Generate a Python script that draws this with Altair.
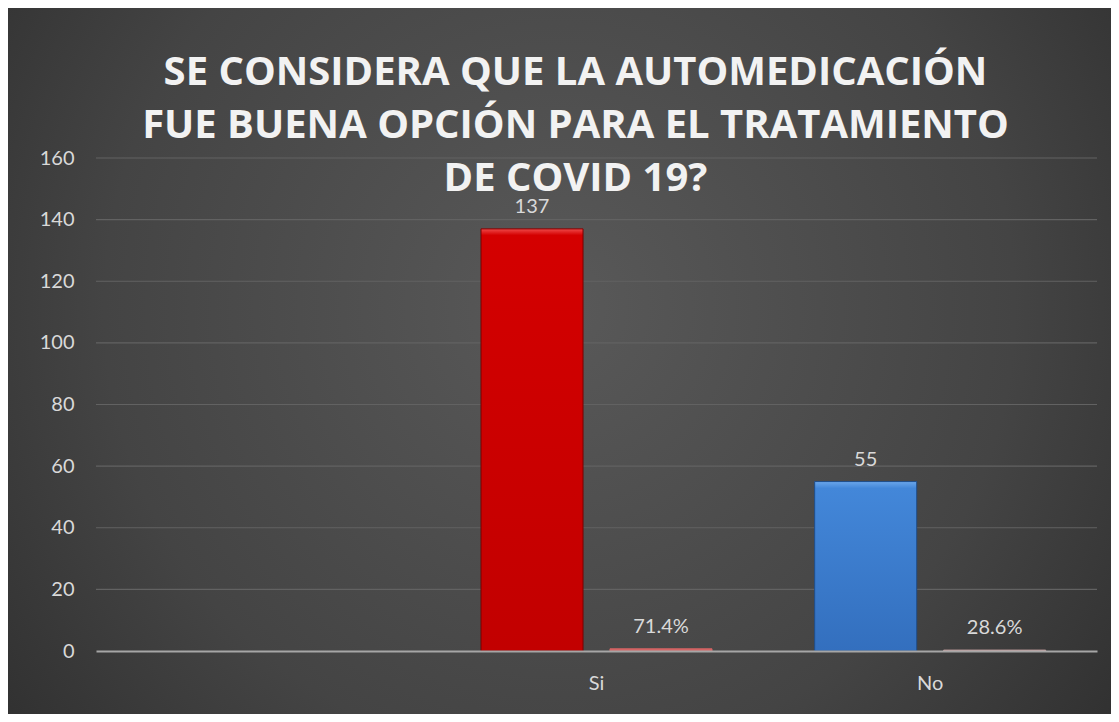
import altair as alt
import pandas as pd

categories = ["Si", "No"]
counts = [137, 55]
percents = [0.714, 0.286]
pct_labels = ["71.4%", "28.6%"]
x_domain = [" ", "Si", "No"]
series = ["Frecuencia", "Porcentaje"]
y_ticks = [0, 20, 40, 60, 80, 100, 120, 140, 160]
grid_values = [20, 40, 60, 80, 100, 120, 140, 160]
title_lines = ["SE CONSIDERA QUE LA AUTOMEDICACIÓN",
               "FUE BUENA OPCIÓN PARA EL TRATAMIENTO",
               "DE COVID 19?"]

rows = []
for c, n, p, pl in zip(categories, counts, percents, pct_labels):
    rows.append({"cat": c, "serie": series[0], "valor": n, "etiqueta": str(n)})
    rows.append({"cat": c, "serie": series[1], "valor": p, "etiqueta": pl})
df = pd.DataFrame(rows)
grid_df = pd.DataFrame({"g": grid_values})

W, H = 1001, 493
PL, PT, PR, PB = 88, 150, 14, 63
FONT = "Lato"

xs = alt.X("cat:N", scale=alt.Scale(domain=x_domain, paddingInner=0, paddingOuter=0),
           axis=alt.Axis(title=None, ticks=False, domain=True, domainColor="#a6a6a6",
                         domainWidth=2, labelColor="#d9d9d9", labelFont=FONT,
                         labelFontSize=20, labelPadding=22, labelAngle=0, zindex=1))
ys = alt.Y("valor:Q", scale=alt.Scale(domain=[0, 160]),
           axis=alt.Axis(title=None, values=y_ticks, grid=False, domain=False, ticks=False,
                         labelColor="#d9d9d9", labelFont=FONT, labelFontSize=20,
                         labelPadding=22, zindex=1))
xo = alt.XOffset("serie:N", scale=alt.Scale(domain=series, paddingInner=0.209, paddingOuter=0.398))

bg = alt.Chart(alt.Data(values=[{"a": 1}])).mark_rect(
    clip=False,
    fill={"gradient": "radial", "x1": 0.5, "y1": 0.45, "r1": 0, "x2": 0.5, "y2": 0.45, "r2": 0.75,
          "stops": [{"offset": 0, "color": "#595959"}, {"offset": 0.55, "color": "#444444"},
                    {"offset": 1, "color": "#262626"}]}
).encode(x=alt.value(-PL), x2=alt.value(W + PR), y=alt.value(-PT), y2=alt.value(H + PB))

grid = alt.Chart(grid_df).mark_rule(color="#626262", strokeWidth=1.2).encode(
    y=alt.Y("g:Q", scale=alt.Scale(domain=[0, 160])), x=alt.value(0), x2=alt.value(W))

def bars(cat, serie, fill, stroke):
    return alt.Chart(df).transform_filter(
        (alt.datum.cat == cat) & (alt.datum.serie == serie)
    ).mark_bar(fill=fill, stroke=stroke, strokeWidth=1).encode(x=xs, y=ys, xOffset=xo)

red = {"gradient": "linear", "x1": 0, "y1": 0, "x2": 0, "y2": 1,
       "stops": [{"offset": 0, "color": "#f04a4a"}, {"offset": 0.015, "color": "#d40000"},
                 {"offset": 1, "color": "#c20000"}]}
blue = {"gradient": "linear", "x1": 0, "y1": 0, "x2": 0, "y2": 1,
        "stops": [{"offset": 0, "color": "#6aa6ea"}, {"offset": 0.04, "color": "#4387d9"},
                  {"offset": 1, "color": "#336fbe"}]}

b1 = bars("Si", series[0], red, "#7a0000")
b2 = bars("No", series[0], blue, "#1f4e8a")
b3 = bars("Si", series[1], "#d46464", "#d46464")
b4 = bars("No", series[1], "#c9a3a3", "#c9a3a3")

labels = alt.Chart(df).mark_text(baseline="bottom", dy=-12, font=FONT, fontSize=20,
                                 color="#d9d9d9").encode(x=xs, y=ys, xOffset=xo, text="etiqueta:N")

chart = alt.layer(bg, grid, b1, b2, b3, b4, labels).properties(
    width=W, height=H,
    autosize=alt.AutoSizeParams(type="none"),
    padding={"left": PL, "top": PT, "right": PR, "bottom": PB},
    background="#3a3a3a",
    title=alt.TitleParams(text=title_lines, font="Open Sans", fontSize=40, fontWeight="bold",
                          color="#f2f2f2", lineHeight=53, anchor="middle", offset=-191,
                          dx=-21, zindex=1),
).configure_view(stroke=None)

chart.save("out.html", embed_options={"renderer": "svg", "actions": False})
